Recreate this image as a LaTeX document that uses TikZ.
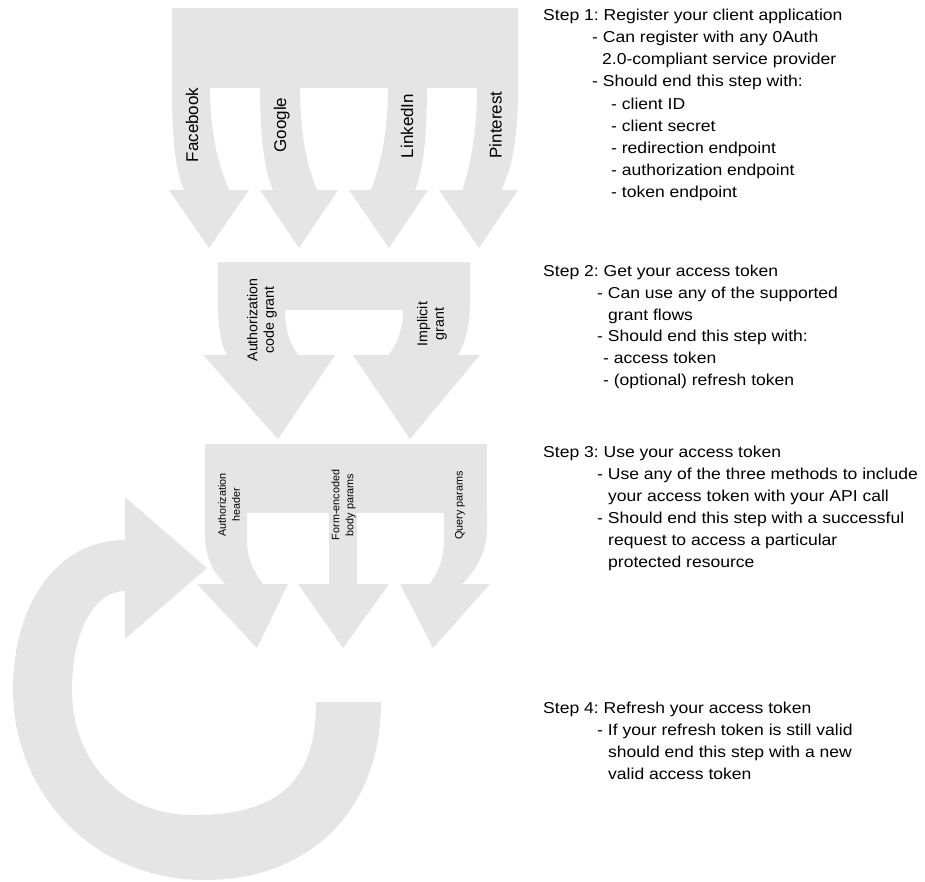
\documentclass[tikz,border=0pt]{standalone}
\usepackage{fontspec}
\setmainfont{Liberation Sans}
\newfontfamily\rtfont[FakeStretch=1.11]{Liberation Sans}
\definecolor{arr}{RGB}{229,229,229}
\begin{document}
\frenchspacing
\begin{tikzpicture}[x=1pt,y=-1pt,
  grayfill/.style={fill=arr, draw=none},
  rtxt/.style={anchor=base west, inner sep=0pt, font=\rtfont\fontsize{15.8}{20}\selectfont},
  lblA/.style={rotate=90, anchor=base, inner sep=0pt, font=\fontsize{17}{20}\selectfont},
  lblB/.style={rotate=90, align=center, inner sep=0pt, font=\fontsize{14.2}{16.5}\selectfont},
  lblC/.style={rotate=90, align=center, inner sep=0pt, font=\fontsize{10.8}{14}\selectfont}]
\useasboundingbox (0,0) rectangle (925,882);

% ---------- Block 1 ----------
\fill[grayfill] (172,8) rectangle (518,88);
\fill[grayfill] (172,84) -- (172,87) .. controls (172,150) and (177,175) .. (185,192) -- (230,192) .. controls (221,172) and (210,140) .. (210,87) -- (210,84) -- cycle;
\fill[grayfill] (260,84) -- (260,87) .. controls (260,145) and (266,175) .. (274,192) -- (318,192) .. controls (309,172) and (300,140) .. (300,87) -- (300,84) -- cycle;
\fill[grayfill] (388,84) -- (388,87) .. controls (388,140) and (378,172) .. (370,192) -- (414,192) .. controls (422,175) and (427,145) .. (427,87) -- (427,84) -- cycle;
\fill[grayfill] (477,84) -- (477,87) .. controls (477,140) and (468,172) .. (462,192) -- (500,192) .. controls (510,175) and (518,145) .. (518,87) -- (518,84) -- cycle;
\fill[grayfill] (169,190) -- (249,190) -- (209,248) -- cycle;
\fill[grayfill] (260,190) -- (338,190) -- (299,248) -- cycle;
\fill[grayfill] (349,190) -- (428,190) -- (389,248) -- cycle;
\fill[grayfill] (439,190) -- (518,190) -- (479,248) -- cycle;

% ---------- Block 2 ----------
\fill[grayfill] (218,262) rectangle (470,310);
\fill[grayfill] (218,300) .. controls (218,330) and (221,345) .. (228,357) -- (300,357) .. controls (290,345) and (285,330) .. (285,309) -- (285,300) -- cycle;
\fill[grayfill] (403,300) -- (403,309) .. controls (403,330) and (397,345) .. (387,357) -- (457,357) .. controls (464,345) and (470,330) .. (470,300) -- cycle;
\fill[grayfill] (203,355) -- (335,355) -- (278,439) -- cycle;
\fill[grayfill] (353,355) -- (480,355) -- (410,439) -- cycle;

% ---------- Block 3 ----------
\fill[grayfill] (205,444) rectangle (487,513);
\fill[grayfill] (205,505) -- (205,535) .. controls (205,560) and (215,575) .. (228,586) -- (265,586) .. controls (255,575) and (247,560) .. (247,540) -- (247,505) -- cycle;
\fill[grayfill] (329,505) rectangle (357,586);
\fill[grayfill] (444,505) -- (444,540) .. controls (444,560) and (437,575) .. (428,586) -- (460,586) .. controls (472,575) and (487,555) .. (487,530) -- (487,505) -- cycle;
\fill[grayfill] (197,584) -- (288,584) -- (257,648) -- cycle;
\fill[grayfill] (298,584) -- (389,584) -- (343,648) -- cycle;
\fill[grayfill] (400,584) -- (490,584) -- (433,648) -- cycle;

% ---------- Refresh ring ----------
\fill[grayfill] (127,540) -- (125,540) .. controls (60,540) and (13,600) .. (13,690)
  .. controls (13,790) and (90,880) .. (205,880)
  .. controls (310,880) and (381,810) .. (381,702) -- (316,702)
  .. controls (316,785) and (275,815) .. (193,815)
  .. controls (120,815) and (72,760) .. (72,690)
  .. controls (72,630) and (95,591) .. (125,591) -- (127,591) -- cycle;
\fill[grayfill] (125,497) -- (207,568) -- (125,639) -- cycle;

% ---------- Arrow labels ----------
\node[lblA] (fb) at (198,125) {Facebook};
\node[lblA] (go) at (286,125) {Google};
\node[lblA] (li) at (413,126) {LinkedIn};
\node[lblA] (pi) at (501.5,125) {Pinterest};
\node[lblB] (acg) at (262,320) {Authorization\\code grant};
\node[lblB] (ig) at (432,324) {Implicit\\grant};
\node[lblC] (ah) at (229,505) {Authorization\\header};
\node[lblC] (fe) at (343.5,505) {Form-encoded\\body params};
\node[lblC] (qp) at (460,505.5) {Query params};

% ---------- Step texts ----------
\node[rtxt] (s1a) at (543,20.7)  {Step 1: Register your client application};
\node[rtxt] (s1b) at (592,42.8)  {- Can register with any 0Auth};
\node[rtxt] (s1c) at (602,64.9)  {2.0-compliant service provider};
\node[rtxt] (s1d) at (592,87.0)  {- Should end this step with:};
\node[rtxt] (s1e) at (611,109.1) {- client ID};
\node[rtxt] (s1f) at (611,131.2) {- client secret};
\node[rtxt] (s1g) at (611,153.3) {- redirection endpoint};
\node[rtxt] (s1h) at (611,175.4) {- authorization endpoint};
\node[rtxt] (s1i) at (611,197.5) {- token endpoint};

\node[rtxt] (s2a) at (543,276.5) {Step 2: Get your access token};
\node[rtxt] (s2b) at (597,298.3) {- Can use any of the supported};
\node[rtxt] (s2c) at (608,320.1) {grant flows};
\node[rtxt] (s2d) at (597,341.9) {- Should end this step with:};
\node[rtxt] (s2e) at (603,363.7) {- access token};
\node[rtxt] (s2f) at (603,385.5) {- (optional) refresh token};

\node[rtxt] (s3a) at (543,457.7) {Step 3: Use your access token};
\node[rtxt] (s3b) at (597,479.6) {- Use any of the three methods to include};
\node[rtxt] (s3c) at (608,501.5) {your access token with your API call};
\node[rtxt] (s3d) at (597,523.4) {- Should end this step with a successful};
\node[rtxt] (s3e) at (608,545.3) {request to access a particular};
\node[rtxt] (s3f) at (608,567.2) {protected resource};

\node[rtxt] (s4a) at (543,713.7) {Step 4: Refresh your access token};
\node[rtxt] (s4b) at (597,735.7) {- If your refresh token is still valid};
\node[rtxt] (s4c) at (608,757.7) {should end this step with a new};
\node[rtxt] (s4d) at (608,779.7) {valid access token};
\end{tikzpicture}
\end{document}
